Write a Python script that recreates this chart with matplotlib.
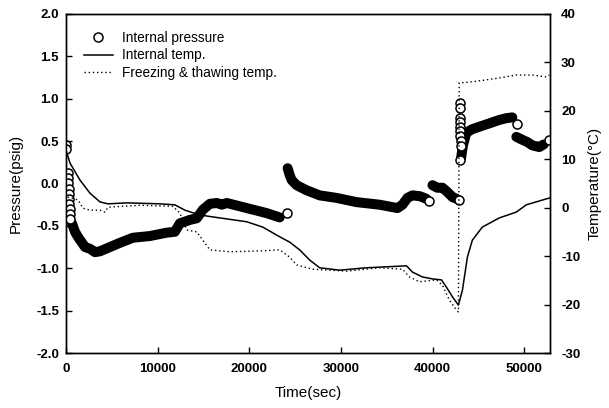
"""
Internal pressure and temperature during a freezing & thawing cycle
"""

import matplotlib
matplotlib.use('Agg')
import matplotlib.pyplot as plt
import numpy as np

plt.rcParams['font.family'] = ['Liberation Sans', 'DejaVu Sans']
plt.rcParams['axes.unicode_minus'] = False

# Internal pressure (psig) - dense stretches of the record, one list per stretch
press_t1 = [650, 980, 1300, 2070, 2610, 3160, 3700, 4790, 5880, 7300, 9150, 11000,
            11870, 12420, 13500, 14270, 14920, 15690, 16450, 17000, 17540, 19720,
            21900, 23310]
press_p1 = [-0.47, -0.57, -0.63, -0.75, -0.77, -0.81, -0.80, -0.75, -0.70, -0.64,
            -0.62, -0.58, -0.57, -0.47, -0.43, -0.41, -0.31, -0.24, -0.23, -0.25,
            -0.23, -0.29, -0.35, -0.40]

press_t2 = [24180, 24400, 24620, 25160, 26250, 27670, 29520, 31700, 34200, 36160,
            36710, 37250, 37800, 38600, 39300]
press_p2 = [0.18, 0.10, 0.04, -0.02, -0.08, -0.14, -0.17, -0.22, -0.25, -0.29,
            -0.25, -0.17, -0.14, -0.15, -0.18]

press_t3 = [39980, 40500, 41070, 41600, 42160, 42600]
press_p3 = [-0.02, -0.05, -0.05, -0.10, -0.16, -0.18]

press_t4 = [43100, 43300, 43680, 44300, 45100, 46200, 47280, 48000, 48690]
press_p4 = [0.30, 0.45, 0.60, 0.64, 0.67, 0.71, 0.75, 0.77, 0.78]

press_t5 = [49130, 49700, 50300, 50870, 51630, 52100]
press_p5 = [0.55, 0.52, 0.49, 0.45, 0.43, 0.46]

# sparse readings that show up as single open circles
single_t = [0, 30, 200, 230, 260, 290, 320, 350, 380, 410, 440, 470,
            24070, 39650, 42920,
            42950, 42950, 42950, 42980, 43000, 43000, 43020, 43050, 43050, 42950,
            49240, 52720]
single_p = [0.45, 0.41, 0.12, 0.06, 0.00, -0.06, -0.12, -0.18, -0.24, -0.30, -0.36, -0.42,
            -0.35, -0.21, -0.19,
            0.95, 0.89, 0.77, 0.72, 0.67, 0.62, 0.56, 0.50, 0.44, 0.28,
            0.70, 0.51]

# Internal temperature (C)
int_t = [0, 436, 1525, 2614, 3704, 4575, 6645, 10240, 11873, 12963, 14596, 16013,
         19716, 21459, 23310, 24400, 25490, 26580, 27670, 29850, 32790, 37150,
         37800, 38890, 39980, 40960, 41500, 42160, 42810, 43250, 43790, 44330,
         45420, 47280, 49130, 50220, 52720]
int_temp = [11.9, 9.2, 5.7, 3.0, 1.2, 0.8, 1.0, 0.8, 0.6, -0.5, -1.5, -1.9,
            -2.9, -4.0, -6.0, -7.1, -8.7, -10.8, -12.4, -12.9, -12.4, -12.0,
            -13.3, -14.3, -14.7, -14.9, -16.4, -18.4, -20.1, -17.0, -10.2, -6.7,
            -4.0, -2.1, -0.9, 0.6, 2.0]

# Freezing & thawing (chamber) temperature (C)
ft_t = [0, 200, 1307, 1850, 2614, 3704, 4250, 4575, 8000, 11650, 12420, 13180,
        14270, 14920, 15690, 17860, 21460, 23310, 24400, 25160, 26910, 30610,
        34200, 36710, 37470, 38560, 40410, 41070, 41830, 42590, 42810, 42900,
        43140, 44330, 45860, 47280, 49130, 50870, 52390, 52720]
ft_temp = [3.0, 2.2, 1.6, -0.1, -0.5, -0.5, -0.9, 0.1, 0.5, 0.3, -1.1, -4.6,
           -5.0, -6.7, -8.7, -9.1, -8.9, -8.7, -10.2, -11.8, -12.7, -13.1,
           -12.4, -12.7, -14.3, -15.3, -14.9, -16.0, -19.1, -21.1, -21.5, 25.8,
           25.8, 26.0, 26.4, 26.8, 27.4, 27.4, 27.0, 27.4]

fig = plt.figure(figsize=(6.09, 4.08), dpi=100)
ax = fig.add_axes([0.1084, 0.1348, 0.7947, 0.8309])
ax2 = ax.twinx()

# dense pressure record: overlapping circles merge into a black band
for tt, pp in [(press_t1, press_p1), (press_t2, press_p2), (press_t3, press_p3),
               (press_t4, press_p4), (press_t5, press_p5)]:
    ax.plot(tt, pp, '-', color='black', lw=7.2, solid_capstyle='round',
            solid_joinstyle='round', zorder=3)
ax.plot(single_t, single_p, 'o', ls='none', mfc='white', mec='black',
        ms=6.5, mew=1.1, zorder=4)

ax2.plot(int_t, int_temp, '-', color='black', lw=1.1)
ax2.plot(ft_t, ft_temp, color='black', lw=1.0, ls=(0, (1, 2)))

ax.set_xlim(0, 52800)
ax.set_ylim(-2.0, 2.0)
ax2.set_ylim(-30, 40)
ax.set_xticks(np.arange(0, 50001, 10000))
ax.set_yticks(np.arange(-2.0, 2.01, 0.5))
ax.set_yticklabels([f"{v:.1f}" for v in np.arange(-2.0, 2.01, 0.5)])
ax2.set_yticks(np.arange(-30, 41, 10))

for a in (ax, ax2):
    a.tick_params(direction='in', length=4, width=1, labelsize=9.5)
    for lab in a.get_xticklabels() + a.get_yticklabels():
        lab.set_fontweight('bold')
    for s in a.spines.values():
        s.set_linewidth(1.0)
ax.tick_params(axis='y', pad=5)
ax2.tick_params(axis='y', pad=8)
ax.tick_params(axis='x', pad=7)

ax.set_xlabel('Time(sec)', fontsize=11, labelpad=8)
ax.set_ylabel('Pressure(psig)', fontsize=11, labelpad=10)
ax2.set_ylabel('Temperature(°C)', fontsize=11, labelpad=5)

# legend gathering the marker from the pressure axis and lines from the temp axis
h_p = plt.Line2D([], [], ls='none', marker='o', mfc='white', mec='black', ms=6.5, mew=1.1)
h_i = plt.Line2D([], [], color='black', lw=1.1)
h_f = plt.Line2D([], [], color='black', lw=1.0, ls=(0, (1, 2)))
ax2.legend([h_p, h_i, h_f],
           ['Internal pressure', 'Internal temp.', 'Freezing & thawing temp.'],
           loc='upper left', bbox_to_anchor=(0.037, 0.95), frameon=False,
           fontsize=9.8, handlelength=2.1, handletextpad=0.7, labelspacing=0.25,
           borderpad=0, borderaxespad=0)

fig.savefig('out.png', dpi=100)
